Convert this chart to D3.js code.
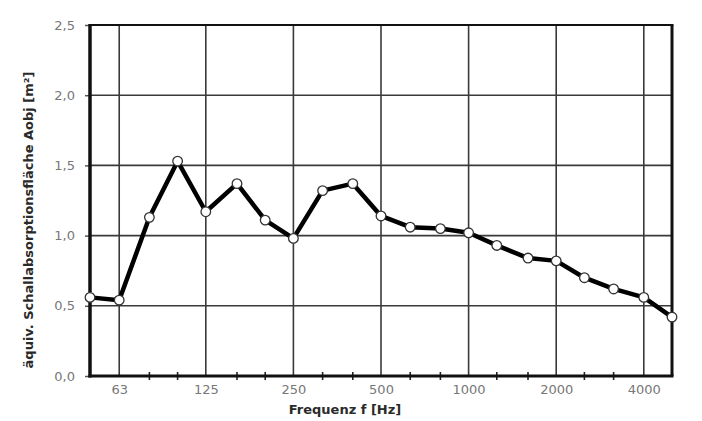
<!DOCTYPE html>
<html><head><meta charset="utf-8">
<script src="https://cdn.jsdelivr.net/npm/d3@7/dist/d3.min.js"></script>
<style>body{margin:0;background:#fff}svg{display:block}</style>
</head><body>
<svg id="c" width="702" height="421"></svg>
<script>
const frequencies = [50,63,80,100,125,160,200,250,315,400,500,630,800,1000,1250,1600,2000,2500,3150,4000,5000];
const absorption = [0.56,0.54,1.13,1.53,1.17,1.37,1.11,0.98,1.32,1.37,1.14,1.06,1.05,1.02,0.93,0.84,0.82,0.70,0.62,0.56,0.42];
const xTickLabels = [63,125,250,500,1000,2000,4000];
const yTickValues = [0,0.5,1.0,1.5,2.0,2.5];
const xTitle = "Frequenz f [Hz]";
const yTitle = "äquiv. Schallabsorptionsfläche Aobj [m²]";

const svg = d3.select("#c");
const L = 90, R = 672, T = 25, B = 376;
const x = d3.scaleLog().domain([50,5000]).range([L,R]);
const y = d3.scaleLinear().domain([0,2.5]).range([B,T]);

// grid
const g = svg.append("g");
g.selectAll(".vg").data(xTickLabels).join("line")
  .attr("x1",d=>x(d)).attr("x2",d=>x(d)).attr("y1",T).attr("y2",B)
  .attr("stroke","#3a3a3a").attr("stroke-width",1.6);
g.selectAll(".hg").data(yTickValues.filter(v=>v>0&&v<2.5)).join("line")
  .attr("x1",L).attr("x2",R).attr("y1",d=>y(d)).attr("y2",d=>y(d))
  .attr("stroke","#3a3a3a").attr("stroke-width",1.6);

// minor x ticks
const minor = frequencies.filter(f=>!xTickLabels.includes(f) && f>50 && f<5000);
g.selectAll(".mt").data(minor).join("line")
  .attr("x1",d=>x(d)).attr("x2",d=>x(d)).attr("y1",B-4).attr("y2",B+4)
  .attr("stroke","#222").attr("stroke-width",1.6);

// axes via d3
const yAxis = d3.axisLeft(y).tickValues(yTickValues).tickSize(5).tickPadding(10)
  .tickFormat(d=>d3.format(".1f")(d).replace(".",","));
const ya = svg.append("g").attr("transform",`translate(${L},0)`).call(yAxis);
ya.select(".domain").remove();
ya.selectAll("line").attr("stroke","#555").attr("stroke-width",1.5);
ya.selectAll("text").attr("font-family","DejaVu Sans").attr("font-size",13).attr("fill","#777");

const xAxis = d3.axisBottom(x).tickValues(xTickLabels).tickSize(0).tickPadding(9)
  .tickFormat(d=>String(d));
const xa = svg.append("g").attr("transform",`translate(0,${B})`).call(xAxis);
xa.select(".domain").remove();
xa.selectAll("text").attr("font-family","DejaVu Sans").attr("font-size",13).attr("fill","#777");

// frame
svg.append("line").attr("x1",L).attr("x2",R+1.5).attr("y1",T).attr("y2",T).attr("stroke","#111").attr("stroke-width",2.2);
svg.append("line").attr("x1",R).attr("x2",R).attr("y1",T).attr("y2",B).attr("stroke","#111").attr("stroke-width",3);
svg.append("line").attr("x1",L).attr("x2",L).attr("y1",T-1).attr("y2",B+1.5).attr("stroke","#111").attr("stroke-width",3.5);
svg.append("line").attr("x1",L-1.5).attr("x2",R+1.5).attr("y1",B).attr("y2",B).attr("stroke","#111").attr("stroke-width",3);

// data line
const data = frequencies.map((f,i)=>({f,v:absorption[i]}));
svg.append("path").datum(data)
  .attr("d",d3.line().x(d=>x(d.f)).y(d=>y(d.v)))
  .attr("fill","none").attr("stroke","#000").attr("stroke-width",4.5).attr("stroke-linejoin","round");
svg.selectAll(".pt").data(data).join("circle")
  .attr("cx",d=>x(d.f)).attr("cy",d=>y(d.v)).attr("r",4.8)
  .attr("fill","#fff").attr("stroke","#333").attr("stroke-width",1.3);

// titles
svg.append("text").attr("x",(L+R)/2 - 36).attr("y",414).attr("text-anchor","middle")
  .attr("font-family","DejaVu Sans").attr("font-weight","bold").attr("font-size",13)
  .attr("fill","#2a2a2a").text(xTitle);
svg.append("text").attr("transform","translate(33,220) rotate(-90)").attr("text-anchor","middle")
  .attr("font-family","DejaVu Sans").attr("font-weight","bold").attr("font-size",13)
  .attr("fill","#2a2a2a").text(yTitle);
</script>
</body></html>
